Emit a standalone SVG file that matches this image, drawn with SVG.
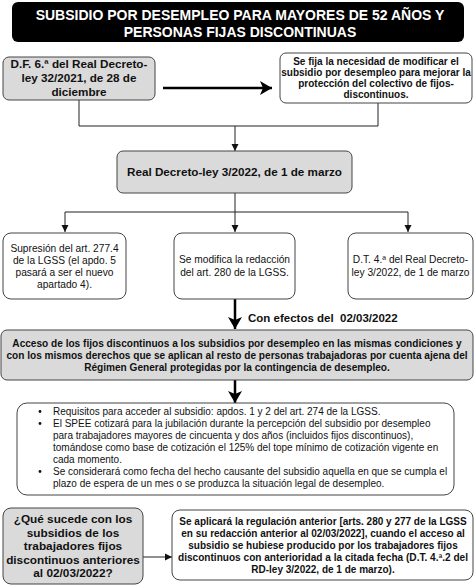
<svg xmlns="http://www.w3.org/2000/svg" width="474" height="585" viewBox="0 0 474 585">
<style>
text{font-family:"Liberation Sans",Arial,sans-serif;fill:#111;}
.b{font-weight:bold;}
.c{text-anchor:middle;}
.gray{fill:#dadada;stroke:#444;stroke-width:1;}
.white{fill:#fff;stroke:#444;stroke-width:1;}
.ln{fill:none;stroke:#222;stroke-width:1;}
.thick{fill:none;stroke:#000;stroke-width:2.5;}
</style>
<defs>
<marker id="ah" markerWidth="8" markerHeight="8" refX="7" refY="4" orient="auto" markerUnits="userSpaceOnUse">
<path d="M0,0.5 L7,4 L0,7.5 Z" fill="#111"/>
</marker>
<marker id="ahb" markerWidth="14" markerHeight="14" refX="12" refY="7" orient="auto" markerUnits="userSpaceOnUse">
<path d="M0,0 L12,7 L0,14 L3,7 Z" fill="#000"/>
</marker>
</defs>
<rect width="474" height="585" fill="#fff"/>
<g id="title">
<rect x="12" y="2" width="452" height="40" rx="6" fill="#000"/>
<text class="b c" x="240" y="20" font-size="14" style="fill:#fff">SUBSIDIO POR DESEMPLEO PARA MAYORES DE 52 AÑOS Y</text>
<text class="b c" x="240" y="37" font-size="14" style="fill:#fff">PERSONAS FIJAS DISCONTINUAS</text>
</g>
<g id="connectors">
<line class="thick" x1="163" y1="88" x2="272" y2="88" marker-end="url(#ahb)"/>
<polyline class="ln" points="79,100 79,126 378,126 378,103"/>
<line class="ln" x1="235" y1="126" x2="235" y2="151" marker-end="url(#ah)"/>
<line class="ln" x1="235" y1="193" x2="235" y2="232" marker-end="url(#ah)"/>
<line class="ln" x1="65" y1="212" x2="408" y2="212"/>
<line class="ln" x1="65" y1="212" x2="65" y2="232" marker-end="url(#ah)"/>
<line class="ln" x1="408" y1="212" x2="408" y2="232" marker-end="url(#ah)"/>
<line class="thick" x1="235" y1="299" x2="235" y2="329" marker-end="url(#ahb)"/>
<line class="thick" x1="235" y1="380" x2="235" y2="403" marker-end="url(#ahb)"/>
<line class="ln" x1="143" y1="557" x2="172" y2="557" marker-end="url(#ah)"/>
<text class="b" x="248" y="322" font-size="11.5" style="white-space:pre">Con efectos del  02/03/2022</text>
</g>
<g id="df">
<rect class="gray" x="3" y="57" width="152" height="43" rx="6"/>
<text class="b c" x="79" y="67.5" font-size="11.7">D.F. 6.ª del Real Decreto-</text>
<text class="b c" x="79" y="81.5" font-size="11.7">ley 32/2021, de 28 de</text>
<text class="b c" x="79" y="95.5" font-size="11.7">diciembre</text>
</g>
<g id="sefija">
<rect class="white" x="280" y="53" width="192" height="50" rx="6"/>
<text class="b c" x="376" y="65" font-size="10">Se fija la necesidad de modificar el</text>
<text class="b c" x="376" y="76" font-size="10">subsidio por desempleo para mejorar la</text>
<text class="b c" x="376" y="87" font-size="10">protección del colectivo de fijos-</text>
<text class="b c" x="376" y="98" font-size="10">discontinuos.</text>
</g>
<g id="rdl">
<rect class="gray" x="117" y="151" width="235" height="42" rx="6"/>
<text class="b c" x="234.5" y="176" font-size="11.7">Real Decreto-ley 3/2022, de 1 de marzo</text>
</g>
<g id="supresion">
<rect class="white" x="3" y="233" width="123" height="66" rx="8"/>
<text class="c" x="64.5" y="251.5" font-size="10.2">Supresión del art. 277.4</text>
<text class="c" x="64.5" y="263.5" font-size="10.2">de la LGSS (el apdo. 5</text>
<text class="c" x="64.5" y="275.5" font-size="10.2">pasará a ser el nuevo</text>
<text class="c" x="64.5" y="287.5" font-size="10.2">apartado 4).</text>
</g>
<g id="modifica">
<rect class="white" x="174" y="233" width="121" height="66" rx="8"/>
<text class="c" x="234.5" y="263" font-size="10.2">Se modifica la redacción</text>
<text class="c" x="234.5" y="275.5" font-size="10.2">del art. 280 de la LGSS.</text>
</g>
<g id="dt4">
<rect class="white" x="348" y="233" width="125" height="66" rx="8"/>
<text class="c" x="410.5" y="263" font-size="10.2">D.T. 4.ª del Real Decreto-</text>
<text class="c" x="410.5" y="275.5" font-size="10.2">ley 3/2022, de 1 de marzo</text>
</g>
<g id="acceso">
<rect class="gray" x="1" y="330" width="472" height="50" rx="6"/>
<text class="b c" x="237" y="346.5" font-size="10.1">Acceso de los fijos discontinuos a los subsidios por desempleo en las mismas condiciones y</text>
<text class="b c" x="237" y="358.5" font-size="10.1">con los mismos derechos que se aplican al resto de personas trabajadoras por cuenta ajena del</text>
<text class="b c" x="237" y="370.5" font-size="10.1">Régimen General protegidas por la contingencia de desempleo.</text>
</g>
<g id="requisitos">
<rect class="white" x="17" y="403" width="437" height="92" rx="10"/>
<g font-size="10">
<circle cx="40" cy="411.5" r="1.4" fill="#111"/>
<circle cx="40" cy="423.5" r="1.4" fill="#111"/>
<circle cx="40" cy="471.5" r="1.4" fill="#111"/>
<text x="53" y="415">Requisitos para acceder al subsidio: apdos. 1 y 2 del art. 274 de la LGSS.</text>
<text x="53" y="427">El SPEE cotizará para la jubilación durante la percepción del subsidio por desempleo</text>
<text x="53" y="439">para trabajadores mayores de cincuenta y dos años (incluidos fijos discontinuos),</text>
<text x="53" y="451">tomándose como base de cotización el 125% del tope mínimo de cotización vigente en</text>
<text x="53" y="463">cada momento.</text>
<text x="53" y="475">Se considerará como fecha del hecho causante del subsidio aquella en que se cumpla el</text>
<text x="53" y="487">plazo de espera de un mes o se produzca la situación legal de desempleo.</text>
</g>
</g>
<g id="quesucede">
<rect class="gray" x="3" y="508" width="140" height="76" rx="8"/>
<text class="b c" x="73" y="523.3" font-size="11.8">¿Qué sucede con los</text>
<text class="b c" x="73" y="536.8" font-size="11.8">subsidios de los</text>
<text class="b c" x="73" y="550.3" font-size="11.8">trabajadores fijos</text>
<text class="b c" x="73" y="563.8" font-size="11.8">discontinuos anteriores</text>
<text class="b c" x="73" y="577.3" font-size="11.8">al 02/03/2022?</text>
</g>
<g id="regulacion">
<rect class="white" x="172" y="510" width="301" height="70" rx="8"/>
<text class="b c" x="323" y="524.5" font-size="10">Se aplicará la regulación anterior [arts. 280 y 277 de la LGSS</text>
<text class="b c" x="323" y="536.5" font-size="10">en su redacción anterior al 02/03/2022], cuando el acceso al</text>
<text class="b c" x="323" y="548.5" font-size="10">subsidio se hubiese producido por los trabajadores fijos</text>
<text class="b c" x="323" y="560.5" font-size="10" textLength="290" lengthAdjust="spacingAndGlyphs">discontinuos con anterioridad a la citada fecha (D.T. 4.ª.2 del</text>
<text class="b c" x="323" y="572.5" font-size="10">RD-ley 3/2022, de 1 de marzo).</text>
</g>
</svg>
